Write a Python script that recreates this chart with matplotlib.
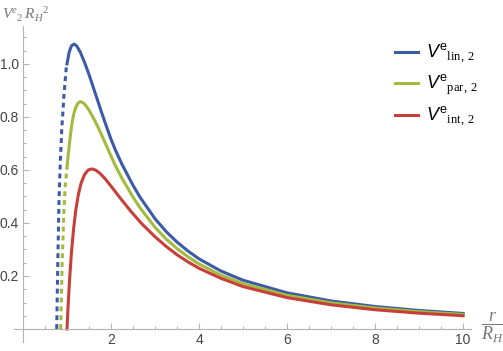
import matplotlib
matplotlib.use("Agg")
import matplotlib.pyplot as plt

# values (r / R_H, V^e_2 R_H^2)
r_lin_in = [0.766, 0.79, 0.818, 0.85, 0.88, 0.93, 0.98, 1.0]
v_lin_in = [0.0, 0.24, 0.487, 0.64, 0.75, 0.88, 0.98, 1.0]
r_lin = [1.0, 1.05, 1.1, 1.16, 1.22, 1.3, 1.4, 1.5, 1.6, 1.7, 1.8, 1.9, 2.0, 2.1, 2.25,
         2.5, 2.66, 3.0, 3.25, 3.5, 3.75, 4.0, 4.5, 5.0, 6.0, 7.0, 8.0, 9.0, 10.0]
v_lin = [1.0, 1.045, 1.068, 1.075, 1.068, 1.045, 1.005, 0.96, 0.91, 0.86, 0.81, 0.762,
         0.716, 0.675, 0.621, 0.542, 0.497, 0.416, 0.368, 0.328, 0.294, 0.2645, 0.2186,
         0.184, 0.1365, 0.1058, 0.0849, 0.0699, 0.0587]

r_par_in = [0.857, 0.89, 0.93, 0.96, 1.0]
v_par_in = [0.0, 0.25, 0.45, 0.54, 0.61]
r_par = [1.0, 1.04, 1.08, 1.12, 1.16, 1.2, 1.25, 1.3, 1.36, 1.42, 1.5, 1.57, 1.64, 1.7,
         1.8, 1.9, 2.0, 2.1, 2.25, 2.5, 2.66, 3.0, 3.25, 3.5, 3.75, 4.0, 4.5, 5.0, 6.0,
         7.0, 8.0, 9.0, 10.0]
v_par = [0.61, 0.675, 0.735, 0.783, 0.815, 0.837, 0.852, 0.858, 0.854, 0.845, 0.826,
         0.805, 0.783, 0.763, 0.727, 0.69, 0.652, 0.616, 0.568, 0.4976, 0.457, 0.3836,
         0.3397, 0.3034, 0.2722, 0.2452, 0.2031, 0.1711, 0.1272, 0.0987, 0.0793,
         0.0654, 0.0549]

r_int = [1.0, 1.01, 1.03, 1.06, 1.1, 1.15, 1.2, 1.26, 1.32, 1.4, 1.48, 1.56, 1.65, 1.75,
         1.87, 2.0, 2.2, 2.45, 2.7, 3.0, 3.25, 3.5, 3.75, 4.0, 4.5, 5.0, 6.0, 7.0, 8.0,
         9.0, 10.0]
v_int = [0.0, 0.036, 0.103, 0.19, 0.286, 0.379, 0.449, 0.509, 0.55, 0.583, 0.5997,
         0.604, 0.5995, 0.587, 0.566, 0.539, 0.496, 0.444, 0.397, 0.348, 0.312, 0.280,
         0.253, 0.229, 0.191, 0.160, 0.1184, 0.0913, 0.0726, 0.0597, 0.0501]

x_ticks = [2, 4, 6, 8, 10]
y_ticks = [0.2, 0.4, 0.6, 0.8, 1.0]
labels = [r"$V^{\mathsf{e}}{}_{\mathrm{lin,\,2}}$",
          r"$V^{\mathsf{e}}{}_{\mathrm{par,\,2}}$",
          r"$V^{\mathsf{e}}{}_{\mathrm{int,\,2}}$"]

c_blue = "#3c5ba6"
c_green = "#a3bb3c"
c_red = "#c83f3a"

plt.rcParams["font.family"] = ["Liberation Sans", "DejaVu Sans"]
plt.rcParams["mathtext.fontset"] = "custom"
plt.rcParams["mathtext.rm"] = "Liberation Serif"
plt.rcParams["mathtext.it"] = "Liberation Sans:italic"
plt.rcParams["mathtext.sf"] = "Liberation Sans"
plt.rcParams["mathtext.bf"] = "Liberation Serif:italic"

fig = plt.figure(figsize=(5.03, 3.51), dpi=100)
ax = fig.add_axes([14 / 503, 9 / 351, 457 / 503, 316 / 351])
ax.set_xlim(-0.2045, 10.18)
ax.set_ylim(-0.049, 1.143)

lw = 2.2
ax.plot(r_lin_in, v_lin_in, color=c_blue, lw=lw, dashes=(1.6, 1.3))
ax.plot(r_par_in, v_par_in, color=c_green, lw=lw, dashes=(1.6, 1.3))
h1, = ax.plot(r_lin, v_lin, color=c_blue, lw=lw, solid_joinstyle="round")
h2, = ax.plot(r_par, v_par, color=c_green, lw=lw, solid_joinstyle="round")
h3, = ax.plot(r_int, v_int, color=c_red, lw=lw, solid_joinstyle="round")

for s in ["top", "right"]:
    ax.spines[s].set_visible(False)
for s in ["left", "bottom"]:
    ax.spines[s].set_position(("data", 0))
    ax.spines[s].set_color("#b3b3b3")
    ax.spines[s].set_linewidth(0.8)

ax.set_xticks(x_ticks)
ax.set_yticks(y_ticks)
ax.set_yticklabels([f"{v:.1f}" for v in y_ticks])
ax.set_xticks([v / 2 for v in range(1, 21) if v % 4 != 0], minor=True)
ax.set_yticks([v / 20 for v in range(1, 23) if v % 4 != 0], minor=True)
ax.tick_params(which="both", direction="in", color="#b3b3b3", labelcolor="#444444",
               labelsize=10, width=0.8)
ax.tick_params(which="major", length=4, pad=3)
ax.tick_params(which="minor", length=2.5)

fig.text(2 / 503, 1 - 13 / 351,
         r"$\mathbf{V}^{\mathbf{e}}{}_{\mathrm{2}}\,\mathbf{R}_{\mathbf{H}}{}^{\mathrm{2}}$",
         fontsize=11, color="#777777", ha="left", va="center")
fig.text(492 / 503, 1 - 328 / 351, r"$\dfrac{\mathbf{r}}{\mathbf{R}_{\mathbf{H}}}$",
         fontsize=13, color="#777777", ha="center", va="center")

ax.legend([h1, h2, h3], labels, loc="upper left", bbox_to_anchor=(386 / 503, 1 - 33 / 351),
          bbox_transform=fig.transFigure, frameon=False, fontsize=13,
          handlelength=1.25, handletextpad=0.45, labelspacing=0.42, borderpad=0)

fig.savefig("out.png", dpi=100)
